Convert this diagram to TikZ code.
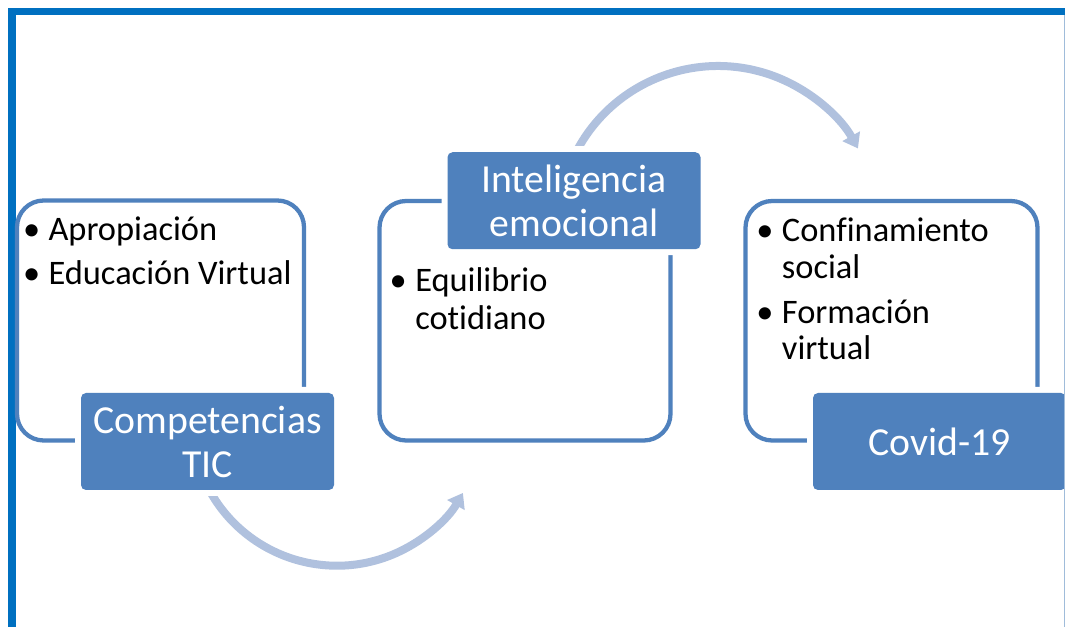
\documentclass[tikz,border=0pt]{standalone}
\usepackage{fontspec}
\setmainfont{Carlito}[Ligatures={NoCommon}]
\usetikzlibrary{arrows.meta}
\definecolor{accent}{HTML}{4F81BD}
\definecolor{framec}{HTML}{0070C0}
\definecolor{flowc}{RGB}{176,193,222}
\definecolor{edgec}{RGB}{160,188,218}
\newcommand{\bodyfont}{\fontsize{25.8pt}{27.75pt}\selectfont}
\newcommand{\titlefont}{\fontsize{29.8pt}{33pt}\selectfont}
\begin{document}
\begin{tikzpicture}[x=0.75pt,y=-0.75pt,
  outlinebox/.style={draw=accent, line width=3.2pt, rounded corners=20pt},
  titlebox/.style={fill=accent, rounded corners=3.75pt, text=white, font=\titlefont,
    align=center, inner sep=0pt, minimum width=189.75pt, minimum height=72.75pt,
    preaction={draw=white, line width=9pt}},
  bul/.style={anchor=base, inner sep=0pt, font=\bodyfont},
  itemtext/.style={anchor=base west, inner sep=0pt, font=\bodyfont},
  flow/.style={draw=flowc, line width=6pt, -{Triangle[length=10.5pt,width=14.5pt]}}]
\useasboundingbox (0,0) rectangle (1065,627);
\fill[white] (0,0) rectangle (1065,627);
% frame
\draw[framec, line width=5.6pt] (1066,11.7) -- (12.2,11.7) -- (12.2,628);
% outline boxes
\draw[outlinebox] (17,200.5) rectangle (304,440.5);
\draw[outlinebox] (379.5,201) rectangle (670.5,440.5);
\draw[outlinebox] (745.5,201) rectangle (1037.5,440.5);
% flow arrows
\coordinate (f1s) at (205.1,481.7);
\coordinate (f2s) at (573.0,158.4);
\draw[flow] (f1s) arc[start angle=205, end angle=330, radius=109.1pt];
\draw[flow] (f2s) arc[start angle=155, end angle=29, radius=120pt];
% title boxes
\node[titlebox] (t1) at (207.5,441.5) {Competencias\\TIC};
\node[titlebox] (t2) at (574,200.75) {Inteligencia\\emocional};
\node[titlebox] (t3) at (939.5,441.5) {Covid-19};
% box 1 items
\node[bul] (b11) at (31.7,241) {•};
\node[itemtext] (i11) at (48.3,241) {Apropiación};
\node[bul] (b12) at (31.7,285) {•};
\node[itemtext] (i12) at (48.3,285) {Educación Virtual};
% box 2 items
\node[bul] (b21) at (398.3,291.7) {•};
\node[itemtext] (i21a) at (415,291.7) {Equilibrio};
\node[itemtext] (i21b) at (415,329.3) {cotidiano};
% box 3 items
\node[bul] (b31) at (765,241.7) {•};
\node[itemtext] (i31a) at (781.7,241.7) {Confinamiento};
\node[itemtext] (i31b) at (781.7,278.3) {social};
\node[bul] (b32) at (765,323.3) {•};
\node[itemtext] (i32a) at (781.7,323.3) {Formación};
\node[itemtext] (i32b) at (781.7,360) {virtual};
% right edge line
\draw[edgec, line width=0.9pt] (1064.3,15) -- (1064.3,628);
\end{tikzpicture}
\end{document}
